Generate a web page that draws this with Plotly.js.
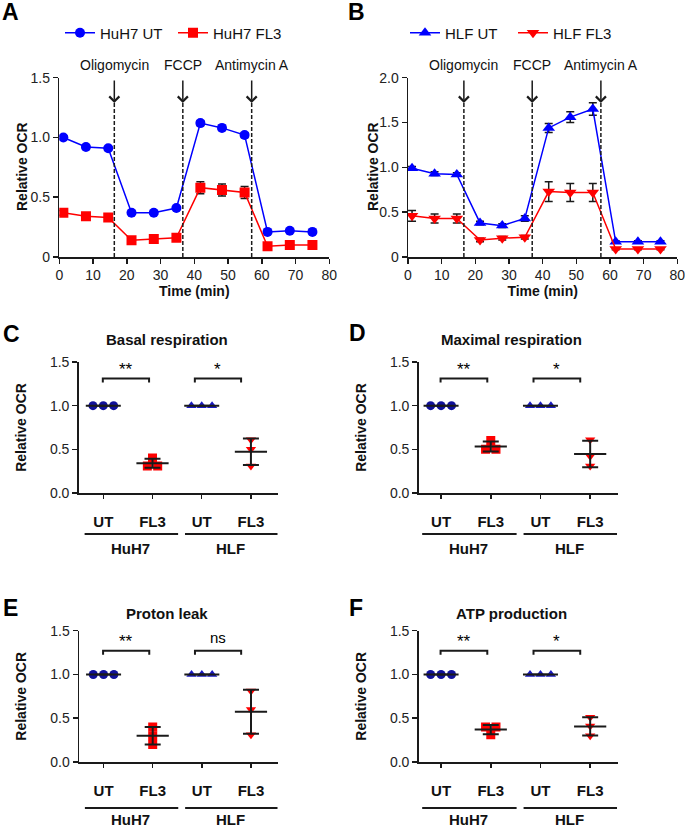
<!DOCTYPE html>
<html><head><meta charset="utf-8">
<script src="https://cdn.plot.ly/plotly-3.0.1.min.js"></script>
<style>html,body{margin:0;padding:0;background:#fff;} #chart{width:685px;height:829px;}</style>
</head><body><div id="chart"></div>
<script>
// ---------- DATA ----------
const timeMin = [1.2, 7.9, 14.5, 21.4, 28.0, 34.7, 41.8, 48.2, 54.9, 61.7, 68.3, 75.0];
const huh7UT    = [1.00, 0.92, 0.91, 0.37, 0.37, 0.41, 1.12, 1.08, 1.02, 0.21, 0.22, 0.21];
const huh7UTerr = [0.01, 0.01, 0.01, 0.01, 0.01, 0.01, 0.02, 0.02, 0.02, 0.01, 0.01, 0.01];
const huh7FL3    = [0.37, 0.34, 0.33, 0.14, 0.15, 0.16, 0.58, 0.56, 0.54, 0.09, 0.10, 0.10];
const huh7FL3err = [0.02, 0.02, 0.02, 0.02, 0.02, 0.02, 0.05, 0.05, 0.05, 0.01, 0.01, 0.01];
const hlfUT    = [0.99, 0.93, 0.92, 0.38, 0.35, 0.43, 1.44, 1.56, 1.65, 0.17, 0.17, 0.17];
const hlfUTerr = [0.02, 0.02, 0.02, 0.02, 0.02, 0.03, 0.05, 0.06, 0.07, 0.01, 0.01, 0.01];
const hlfFL3    = [0.46, 0.43, 0.43, 0.19, 0.21, 0.22, 0.73, 0.72, 0.72, 0.09, 0.09, 0.09];
const hlfFL3err = [0.06, 0.05, 0.05, 0.02, 0.02, 0.02, 0.11, 0.10, 0.10, 0.01, 0.01, 0.01];
const injections = ['Oligomycin', 'FCCP', 'Antimycin A'];
const injTimeA = [16.3, 36.6, 57.0];
const injTimeB = [16.6, 36.9, 57.3];
const xTicksTime = [0, 10, 20, 30, 40, 50, 60, 70, 80];

const dotCategories = ['UT', 'FL3', 'UT', 'FL3'];
const cellLines = ['HuH7', 'HLF'];
const panelTitles = ['Basal respiration', 'Maximal respiration', 'Proton leak', 'ATP production'];
// replicate values per group: HuH7 UT, HuH7 FL3, HLF UT, HLF FL3
const basalResp   = [[1, 1, 1], [0.40, 0.31, 0.31], [1, 1, 1], [0.61, 0.50, 0.31]];
const maximalResp = [[1, 1, 1], [0.60, 0.50, 0.50], [1, 1, 1], [0.61, 0.42, 0.31]];
const protonLeak  = [[1, 1, 1], [0.40, 0.30, 0.20], [1, 1, 1], [0.81, 0.60, 0.31]];
const atpProd     = [[1, 1, 1], [0.40, 0.40, 0.31], [1, 1, 1], [0.51, 0.41, 0.30]];
const significance = [['**', '*'], ['**', '*'], ['**', 'ns'], ['**', '*']];

// ---------- STYLE / LAYOUT ----------
const W = 685, H = 829;
const FONT = 'Liberation Sans, Arial, Helvetica, sans-serif';
const BLUE = '#0000FF', RED = '#FF0000', INK = '#1a1a1a';
const px2x = (a, b) => [a / W, b / W];
const px2y = (top, bottom) => [1 - bottom / H, 1 - top / H];

const traces = [];
const annotations = [];
const shapes = [];

function baseAxis(extra) {
  return Object.assign({
    showline: true, linecolor: INK, linewidth: 1.5, mirror: false,
    ticks: 'outside', ticklen: 5, tickwidth: 1.5, tickcolor: INK,
    showgrid: false, zeroline: false, fixedrange: true, ticklabeloverflow: 'allow',
    tickfont: {family: FONT, size: 14, color: '#222'}
  }, extra);
}

// ---- Panels A and B (time courses) ----
function timePanel(xa, ya, ut, utErr, fl, flErr, utName, flName, utSym, flSym, utLeg, flLeg, injT) {
  traces.push({
    x: timeMin, y: ut, name: utName, xaxis: xa, yaxis: ya, type: 'scatter', mode: 'lines+markers',
    line: {color: BLUE, width: 1.5},
    marker: {symbol: utSym, size: utSym === 'circle' ? 10 : 11, color: BLUE},
    error_y: {type: 'data', array: utErr, color: INK, thickness: 1.5, width: 4},
    legend: utLeg
  });
  traces.push({
    x: timeMin, y: fl, name: flName, xaxis: xa, yaxis: ya, type: 'scatter', mode: 'lines+markers',
    line: {color: RED, width: 1.5},
    marker: {symbol: flSym, size: flSym === 'square' ? 10 : 11, color: RED},
    error_y: {type: 'data', array: flErr, color: INK, thickness: 1.5, width: 4},
    legend: flLeg
  });
  injT.forEach((t, i) => {
    shapes.push({type: 'line', xref: xa, yref: ya + ' domain', x0: t, x1: t, y0: 0, y1: 0.859,
      line: {color: INK, width: 1.5, dash: '4px,2px'}});
    annotations.push({xref: xa, yref: ya + ' domain', x: t, y: 0.859, ax: 0, ay: -24, text: '',
      showarrow: true, arrowhead: 4, arrowsize: 1.3, arrowwidth: 1.5, arrowcolor: INK, standoff: 0});
    annotations.push({xref: xa, yref: ya + ' domain', x: t, y: 1.071, text: injections[i], showarrow: false,
      xanchor: 'center', yanchor: 'middle', font: {family: FONT, size: 14, color: '#111'}});
  });
}
timePanel('x', 'y', huh7UT, huh7UTerr, huh7FL3, huh7FL3err, 'HuH7 UT', 'HuH7 FL3', 'circle', 'square', 'legend', 'legend2', injTimeA);
timePanel('x2', 'y2', hlfUT, hlfUTerr, hlfFL3, hlfFL3err, 'HLF UT', 'HLF FL3', 'triangle-up', 'triangle-down', 'legend3', 'legend4', injTimeB);

// y-axis titles of A and B placed as rotated labels
[[22, 'Relative OCR'], [373, 'Relative OCR']].forEach(([xp, t]) => {
  annotations.push({xref: 'paper', yref: 'paper', x: xp / W, y: 1 - 167 / H, text: t, textangle: -90,
    showarrow: false, xanchor: 'center', yanchor: 'middle', font: {family: FONT, size: 14, color: '#111', weight: 'bold'}});
});

// ---- Panels C-F (dot plots) ----
const dotSets = [basalResp, maximalResp, protonLeak, atpProd];
const groupStyle = [
  {symbol: 'circle', color: '#10109a'},
  {symbol: 'square', color: RED},
  {symbol: 'triangle-up', color: '#1a1ac0'},
  {symbol: 'triangle-down', color: RED}
];
function jitter(vals) {
  const off = vals.map(() => 0), used = vals.map(() => false);
  vals.forEach((v, i) => {
    if (used[i]) return;
    const cl = [];
    vals.forEach((w, j) => { if (!used[j] && Math.abs(w - v) < 0.05) { cl.push(j); used[j] = true; } });
    cl.forEach((j, k) => { off[j] = (k - (cl.length - 1) / 2) * 0.21; });
  });
  return off;
}
const mean = a => a.reduce((s, v) => s + v, 0) / a.length;
const sd = a => { const m = mean(a); return Math.sqrt(a.reduce((s, v) => s + (v - m) * (v - m), 0) / (a.length - 1)); };

const dotAxes = [['x3', 'y3'], ['x4', 'y4'], ['x5', 'y5'], ['x6', 'y6']];
const bracketY = [1.31, 1.31, 1.27, 1.27];
const bracketX = [[0.99, 1.93], [2.86, 3.80]];
dotSets.forEach((groups, p) => {
  const [xa, ya] = dotAxes[p];
  groups.forEach((vals, g) => {
    const off = jitter(vals);
    traces.push({
      x: vals.map((v, i) => g + 1 + off[i]), y: vals, xaxis: xa, yaxis: ya, type: 'scatter', mode: 'markers',
      marker: {symbol: groupStyle[g].symbol, size: 9, color: groupStyle[g].color}, showlegend: false
    });
  });
  groups.forEach((vals, g) => {
    traces.push({
      x: [g + 1], y: [mean(vals)], xaxis: xa, yaxis: ya, type: 'scatter', mode: 'markers',
      marker: {symbol: 'line-ew', size: g % 2 === 0 ? 25 : 23, line: {width: 2, color: INK}},
      error_y: {type: 'data', array: [sd(vals)], color: INK, thickness: 2, width: 8},
      showlegend: false
    });
  });
  // significance brackets
  bracketX.forEach((bx, k) => {
    const yt = bracketY[p], yb = yt - 0.045;
    shapes.push({type: 'path', xref: xa, yref: ya,
      path: `M${bx[0]},${yb} L${bx[0]},${yt} L${bx[1]},${yt} L${bx[1]},${yb}`,
      line: {color: INK, width: 2}});
    const isNs = significance[p][k] === 'ns';
    annotations.push({xref: xa, yref: ya, x: (bx[0] + bx[1]) / 2, y: yt, text: significance[p][k],
      showarrow: false, xanchor: 'center', yanchor: 'bottom', yshift: isNs ? 3 : -2,
      font: {family: FONT, size: isNs ? 15 : 17, color: '#000'}});
  });
  // group underline + cell line labels
  const lineYpx = p < 2 ? 534 : 808;
  [[0.62, 2.52], [2.66, 4.54]].forEach((gx, k) => {
    shapes.push({type: 'line', xref: xa, yref: 'paper', x0: gx[0], x1: gx[1], y0: 1 - lineYpx / H, y1: 1 - lineYpx / H,
      line: {color: INK, width: 2}});
    const lab = {xref: xa, yref: 'paper', x: k === 0 ? 1.55 : 3.58,
      text: cellLines[k], showarrow: false, xanchor: 'center',
      font: {family: FONT, size: 15, color: '#111', weight: 'bold'}};
    if (p < 2) { lab.y = 1 - (lineYpx + 14) / H; lab.yanchor = 'middle'; }
    else { lab.y = 0; lab.yanchor = 'bottom'; lab.borderpad = 0; }
    annotations.push(lab);
  });
});

// panel titles
const titlePos = [[167, 339], [511, 339], [167, 613], [511, 613]];
panelTitles.forEach((t, i) => {
  annotations.push({xref: 'paper', yref: 'paper', x: titlePos[i][0] / W, y: 1 - titlePos[i][1] / H, text: t,
    showarrow: false, xanchor: 'center', yanchor: 'middle', font: {family: FONT, size: 15, color: '#111', weight: 'bold'}});
});
// panel letters
const letters = [['A', 0, 12], ['B', 346, 12], ['C', 1, 334], ['D', 347, 333], ['E', 1, 608], ['F', 347, 608]];
letters.forEach(([l, x, y]) => {
  annotations.push({xref: 'paper', yref: 'paper', x: x / W, y: 1 - y / H, text: l, showarrow: false,
    xanchor: 'left', yanchor: 'middle', font: {family: FONT, size: 23, color: '#000', weight: 'bold'}});
});

const yTitle = {text: 'Relative OCR', font: {family: FONT, size: 14, color: '#111', weight: 'bold'}};
const xTitle = {text: 'Time (min)', font: {family: FONT, size: 14, color: '#111', weight: 'bold'}};
const legendBase = {orientation: 'h', xanchor: 'left', yanchor: 'middle', y: 1 - 33 / H,
  font: {family: FONT, size: 15, color: '#111'}, bgcolor: 'rgba(0,0,0,0)', borderwidth: 0};

const catAxis = (dom, rng) => baseAxis({domain: dom, range: rng, tickvals: [1, 2, 3, 4], ticktext: dotCategories,
  ticklen: 4, ticklabelstandoff: 10, tickfont: {family: FONT, size: 15, color: '#111', weight: 'bold'}});
const ocrAxis = (dom, anchor) => baseAxis({domain: dom, range: [0, 1.5], anchor: anchor,
  tickvals: [0, 0.5, 1, 1.5], ticktext: ['0.0', '0.5', '1.0', '1.5'],
  title: Object.assign({standoff: 20}, yTitle)});

const layout = {
  width: W, height: H, margin: {l: 0, r: 0, t: 0, b: 0},
  paper_bgcolor: '#fff', plot_bgcolor: 'rgba(0,0,0,0)',
  font: {family: FONT, size: 14, color: '#111'},
  xaxis: baseAxis({domain: px2x(59.3, 329.3), range: [0, 80], tickvals: xTicksTime, anchor: 'y',
    title: Object.assign({standoff: 2}, xTitle)}),
  yaxis: baseAxis({domain: px2y(77.7, 257), range: [0, 1.5], anchor: 'x', tickvals: [0, 0.5, 1, 1.5],
    ticktext: ['0', '0.5', '1.0', '1.5']}),
  xaxis2: baseAxis({domain: px2x(408, 677.3), range: [0, 80], tickvals: xTicksTime, anchor: 'y2',
    title: Object.assign({standoff: 2}, xTitle)}),
  yaxis2: baseAxis({domain: px2y(77.7, 257), range: [0, 2], anchor: 'x2', tickvals: [0, 0.5, 1, 1.5, 2],
    ticktext: ['0', '0.5', '1.0', '1.5', '2.0']}),
  xaxis3: Object.assign(catAxis(px2x(78.7, 278), [0.5, 4.55]), {anchor: 'y3'}),
  yaxis3: ocrAxis(px2y(362, 493), 'x3'),
  xaxis4: Object.assign(catAxis(px2x(418.7, 618), [0.55, 4.56]), {anchor: 'y4'}),
  yaxis4: ocrAxis(px2y(362, 493), 'x4'),
  xaxis5: Object.assign(catAxis(px2x(79, 278), [0.5, 4.55]), {anchor: 'y5'}),
  yaxis5: ocrAxis(px2y(630.7, 762), 'x5'),
  xaxis6: Object.assign(catAxis(px2x(418.7, 618), [0.55, 4.56]), {anchor: 'y6'}),
  yaxis6: ocrAxis(px2y(630.7, 762), 'x6'),
  legend: Object.assign({x: 60 / W}, legendBase),
  legend2: Object.assign({x: 173 / W}, legendBase),
  legend3: Object.assign({x: 405 / W}, legendBase),
  legend4: Object.assign({x: 513 / W}, legendBase),
  annotations: annotations,
  shapes: shapes,
  showlegend: true
};

Plotly.newPlot('chart', traces, layout, {displayModeBar: false, staticPlot: true});
</script>
</body></html>
